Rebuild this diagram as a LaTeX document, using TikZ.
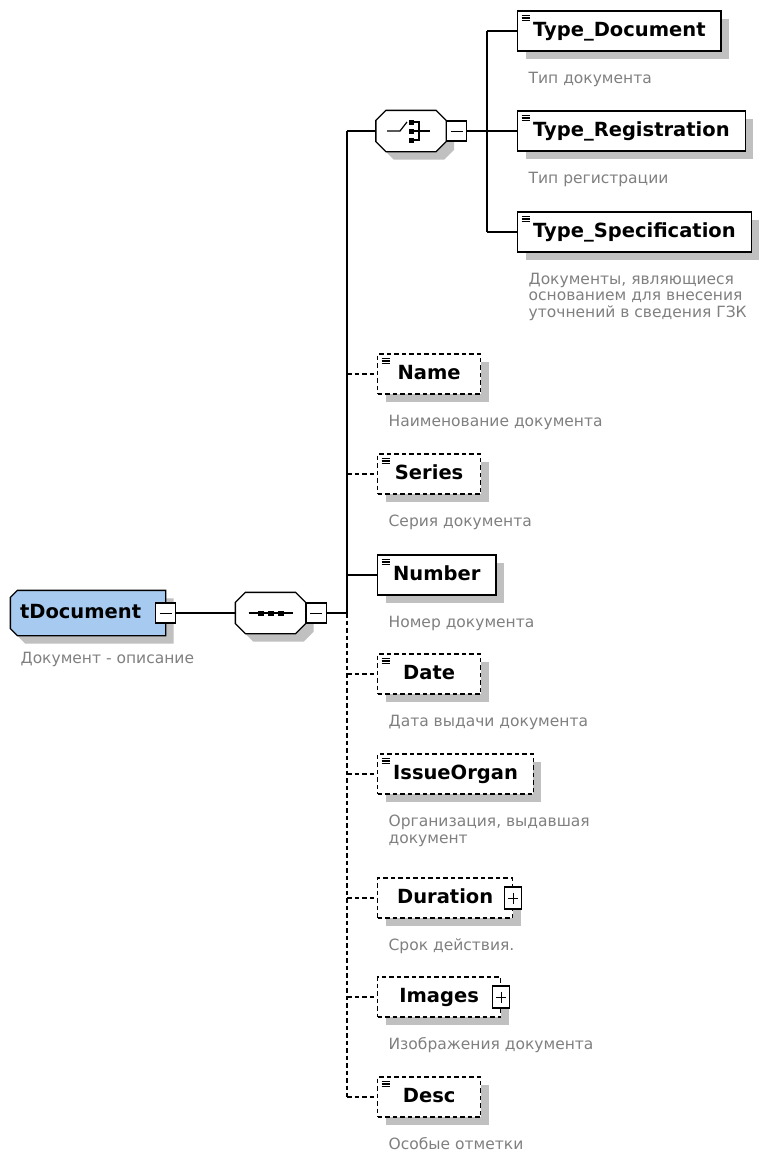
\documentclass[tikz,border=0pt]{standalone}
\usepackage{fontspec}
\setmainfont{DejaVu Sans}
\usetikzlibrary{shadows, backgrounds}
\definecolor{shadowgray}{RGB}{192,192,192}
\definecolor{typeblue}{RGB}{166,202,240}
\definecolor{notegray}{RGB}{128,128,128}
% outline of a compositor (all corners cut) and of the root type (left corners cut); #3 = shift
\newcommand\octpath[3]{([shift={(#3)}, xshift=#2]#1.north west) -- ([shift={(#3)}, xshift=-#2]#1.north east) -- ([shift={(#3)}, yshift=-#2]#1.north east) -- ([shift={(#3)}, yshift=#2]#1.south east) -- ([shift={(#3)}, xshift=-#2]#1.south east) -- ([shift={(#3)}, xshift=#2]#1.south west) -- ([shift={(#3)}, yshift=#2]#1.south west) -- ([shift={(#3)}, yshift=-#2]#1.north west) -- cycle}
\newcommand\rootpath[3]{([shift={(#3)}, xshift=#2]#1.north west) -- ([shift={(#3)}]#1.north east) -- ([shift={(#3)}]#1.south east) -- ([shift={(#3)}, xshift=#2]#1.south west) -- ([shift={(#3)}, yshift=#2]#1.south west) -- ([shift={(#3)}, yshift=-#2]#1.north west) -- cycle}
\begin{document}
\begin{tikzpicture}[x=1pt, y=-1pt, line width=1.3pt,
  shadowed/.style={general shadow={shadow xshift=8pt, shadow yshift=-8pt, fill=shadowgray}},
  box/.style={draw, fill=white, shadowed, anchor=west, minimum width=103pt, minimum height=40pt, inner xsep=15.5pt, text height=14.5pt, text depth=4pt, font=\bfseries\fontsize{19.5}{22}\selectfont},
  elem/.style={box, path picture={\draw[solid, line width=1.2pt] \foreach \k in {4.5,7,9.5} {([shift={(4pt,-\k pt)}]path picture bounding box.north west) -- ++(8pt,0pt)};}},
  optbox/.style={box, dash pattern=on 4.5pt off 3pt},
  optelem/.style={elem, dash pattern=on 4.5pt off 3pt},
  compositor/.style={inner sep=0pt, minimum width=69pt, minimum height=40pt},
  root/.style={inner xsep=9pt, inner ysep=0pt, text width=136pt, align=left, minimum height=44pt, text height=14.5pt, text depth=4pt, font=\bfseries\fontsize{19.5}{22}\selectfont},
  outline/.style={draw, line width=1.3pt},
  pm/.style={draw, solid, fill=white, inner sep=0pt, minimum size=20pt},
  minus/.style={pm, path picture={\draw[line width=1pt] ([xshift=4pt]path picture bounding box.west) -- ([xshift=-4pt]path picture bounding box.east);}},
  plus/.style={pm, minimum width=17pt, minimum height=22pt, path picture={\draw[line width=1pt] ([xshift=3.5pt]path picture bounding box.west) -- ([xshift=-3.5pt]path picture bounding box.east) ([yshift=-5.5pt]path picture bounding box.north) -- ([yshift=5.5pt]path picture bounding box.south);}},
  note/.style={anchor=north west, inner sep=0pt, text=notegray, align=left, font=\fontsize{15.5}{16.7}\selectfont},
  optline/.style={dash pattern=on 4.5pt off 3pt}]

\path[use as bounding box] (0,0) rectangle (762,1152);

% root type and compositors
\node[root] (tdoc) at (88,613) {tDocument};
\node[compositor] (seq) at (270.5,613) {};
\node[compositor] (cho) at (411,131) {};
\begin{scope}[on background layer]
\fill[white] (0,0) rectangle (762,1152);
\fill[shadowgray] \rootpath{tdoc}{7pt}{8pt,-8pt};
\path[outline, fill=typeblue] \rootpath{tdoc}{7pt}{0pt,0pt};
\foreach \c in {seq, cho} {\fill[shadowgray] \octpath{\c}{10pt}{8pt,-8pt}; \path[outline, fill=white] \octpath{\c}{10pt}{0pt,0pt};}
\end{scope}
\node[minus] (tdocm) at (tdoc.east) {};
\node[minus, anchor=west] (seqm) at (seq.east) {};
\node[minus, anchor=west] (chom) at (cho.east) {};
\coordinate (bus) at (347,0); \coordinate (cbus) at (487,0);

% elements
\node[elem] (typedoc) at (517,31) {Type\_Document};
\node[elem] (typereg) at (517,131) {Type\_Registration};
\node[elem] (typespec) at (517,232) {Type\_Specification};
\node[optelem] (name) at (377,374) {Name};
\node[optelem] (series) at (377,474) {Series};
\node[elem] (number) at (377,575) {Number};
\node[optelem] (date) at (377,674) {Date};
\node[optelem] (issue) at (377,774) {IssueOrgan};
\node[optbox, minimum width=135pt] (dur) at (377,898) {Duration}; \node[plus] (durp) at (dur.east) {};
\node[optbox, minimum width=123pt] (img) at (377,997) {Images}; \node[plus] (imgp) at (img.east) {};
\node[optelem] (desc) at (377,1097) {Desc};

% notes
\node[note] (tdocnote) at (20,652) {Документ - описание};
\node[note] (typedocnote) at ([xshift=11pt, yshift=-19.5pt]typedoc.south west) {Тип документа};
\node[note] (typeregnote) at ([xshift=11pt, yshift=-19.5pt]typereg.south west) {Тип регистрации};
\node[note] (typespecnote) at ([xshift=11pt, yshift=-19.5pt]typespec.south west) {Документы, являющиеся\\основанием для внесения\\уточнений в сведения ГЗК};
\node[note] (namenote) at ([xshift=11pt, yshift=-19.5pt]name.south west) {Наименование документа};
\node[note] (seriesnote) at ([xshift=11pt, yshift=-19.5pt]series.south west) {Серия документа};
\node[note] (numbernote) at ([xshift=11pt, yshift=-19.5pt]number.south west) {Номер документа};
\node[note] (datenote) at ([xshift=11pt, yshift=-19.5pt]date.south west) {Дата выдачи документа};
\node[note] (issuenote) at ([xshift=11pt, yshift=-19.5pt]issue.south west) {Организация, выдавшая\\документ};
\node[note] (durnote) at ([xshift=11pt, yshift=-19.5pt]dur.south west) {Срок действия.};
\node[note] (imgnote) at ([xshift=11pt, yshift=-19.5pt]img.south west) {Изображения документа};
\node[note] (descnote) at ([xshift=11pt, yshift=-19.5pt]desc.south west) {Особые отметки};

% compositor symbols
\draw[line width=1.2pt] ([xshift=-22pt]seq.center) -- ([xshift=22pt]seq.center);
\foreach \dx in {-10,0,10} \fill ([xshift=\dx pt]seq.center) +(-3pt,-2.5pt) rectangle +(3pt,2.5pt);
\draw[line width=1.2pt] ([xshift=-24pt]cho.center) -- ([xshift=-11pt]cho.center) -- ([shift={(-4pt,9pt)}]cho.center);
\foreach \dy in {-9,0,9} \fill ([yshift=\dy pt]cho.center) +(-2.5pt,-2.5pt) rectangle +(2.5pt,2.5pt);
\draw[line width=1.2pt] ([shift={(2pt,9pt)}]cho.center) -- ++(6pt,0pt) -- ++(0pt,-18pt) -- ++(-6pt,0pt) ([xshift=2pt]cho.center) -- ++(17pt,0pt);

% connectors
\draw (tdocm.east) -- (seq.west);
\draw (seqm.east) -- (bus |- seqm.east);
\draw (bus |- cho.west) -- (bus |- seqm.east);
\draw[optline] (bus |- seqm.east) -- (bus |- desc.west);
\draw (bus |- cho.west) -- (cho.west);
\draw (bus |- number.west) -- (number.west);
\foreach \n in {name, series, date, issue, dur, img, desc} \draw[optline] (bus |- \n.west) -- (\n.west);
\draw (chom.east) -- (cbus |- chom.east);
\draw (cbus |- typedoc.west) -- (cbus |- typespec.west);
\foreach \n in {typedoc, typereg, typespec} \draw (cbus |- \n.west) -- (\n.west);
\end{tikzpicture}
\end{document}
